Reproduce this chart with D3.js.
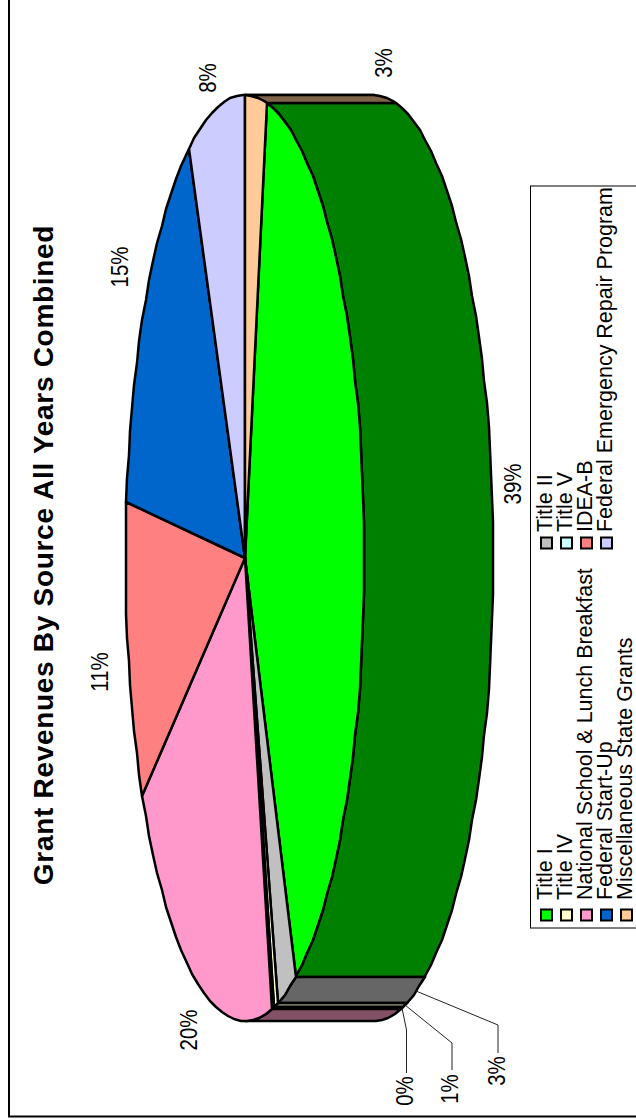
<!DOCTYPE html>
<html><head><meta charset="utf-8">
<script src="https://cdn.jsdelivr.net/npm/d3@7"></script>
<style>html,body{margin:0;padding:0;background:#fff;overflow:hidden}svg{display:block}text{font-family:"Liberation Sans",Arial,sans-serif;fill:#000}</style>
</head><body><svg id="c" width="636" height="1120"></svg>
<script>
const titleText = "Grant Revenues By Source All Years Combined";
const categories = ["Title I","Title II","Title IV","Title V","National School & Lunch Breakfast","IDEA-B","Federal Start-Up","Federal Emergency Repair Program","Miscellaneous State Grants"];
const shares = [40.05,2.6,0.55,0.3,20,10.5,15.3,7.8,2.9];
const shareLabels = ["39%","3%","1%","0%","20%","11%","15%","8%","3%"];
const faceColors = ["#00ff00","#c0c0c0","#ffffcc","#ccffff","#ff99cc","#ff8080","#0066cc","#ccccff","#ffcc99"];
const wallColors = ["#008000","#666666","#999980","#668080","#845066","#804040","#003366","#666680","#806448"];
const legendCol1 = ["Title I","Title IV","National School & Lunch Breakfast","Federal Start-Up","Miscellaneous State Grants"];
const legendCol2 = ["Title II","Title V","IDEA-B","Federal Emergency Repair Program"];

const svg = d3.select("#c");
const W = 1120;
const root = svg.append("g").attr("transform",`translate(0,${W}) rotate(-90)`);
root.append("rect").attr("x",3.5).attr("y",9).attr("width",W+20).attr("height",700).attr("fill","none").attr("stroke","#000").attr("stroke-width",2);

const cx=562, cy=245, rx=463, ry=119.5, depth=129;
const X=d3.scaleLinear().domain([-1,1]).range([cx-rx,cx+rx]);
const Y=d3.scaleLinear().domain([-1,1]).range([cy-ry,cy+ry]);
const rad=d=>d*Math.PI/180;
const startDeg=100.5;
const arcs=d3.pie().sort(null).startAngle(rad(startDeg)).endAngle(rad(startDeg+360))(shares);
const STEP=rad(3);
const line=d3.line();
function thetas(a,b){const t=d3.range(a,b,STEP);t.push(b);return t;}
function pt(t,dy=0){return [Math.round(X(Math.sin(t))),Math.round(Y(-Math.cos(t))+dy)];}

const wallLo=Math.PI/2, wallHi=3*Math.PI/2;
const walls=[];
arcs.forEach((a,i)=>{
  [[a.startAngle,a.endAngle],[a.startAngle-2*Math.PI,a.endAngle-2*Math.PI]].forEach(([s,e])=>{
    const lo=Math.max(s,wallLo),hi=Math.min(e,wallHi);
    if(hi>lo) walls.push({i,lo,hi});
  });
});
root.append("g").selectAll("path").data(walls).join("path")
 .attr("d",w=>{const t=thetas(w.lo,w.hi);return line(t.map(v=>pt(v)).concat(t.slice().reverse().map(v=>pt(v,depth))))+"Z";})
 .attr("fill",w=>wallColors[w.i]).attr("stroke","#000").attr("stroke-width",2.5).attr("stroke-linejoin","round");

root.append("g").selectAll("path").data(arcs).join("path")
 .attr("d",a=>line([[cx,cy]].concat(thetas(a.startAngle,a.endAngle).map(v=>pt(v))))+"Z")
 .attr("fill",(a,i)=>faceColors[i]).attr("stroke","#000").attr("stroke-width",2.5).attr("stroke-linejoin","round");

function placeText(sel,x,y,k){return sel.attr("transform",(d,i)=>`translate(${x(d,i)},${y(d,i)}) scale(${k},1)`);}

const labelLayout=[[521,W-484],[505,W-1071],[458,W-1089],[413,W-1091],[197,W-1030],[108,W-672],[128,W-267],[216,W-78],[392,W-63]];
placeText(root.append("g").selectAll("text").data(shareLabels).join("text"),(d,i)=>labelLayout[i][1],(d,i)=>labelLayout[i][0],0.87)
 .attr("text-anchor","middle").attr("font-size",23.5).text(d=>d);
const leaders={1:[[498,W-1025],[498,W-1053]],2:[[452,W-1043],[452,W-1070]],3:[[406.5,W-1030],[406.5,W-1073]]};
root.append("g").selectAll("path").data(Object.keys(leaders)).join("path")
 .attr("d",k=>{const a=arcs[k];const m=(a.startAngle+a.endAngle)/2;
   return line([pt(m,depth)].concat(leaders[k].map(p=>[p[1],p[0]])));})
 .attr("fill","none").attr("stroke","#222").attr("stroke-width",1);

root.append("text").attr("x",W-555).attr("y",53).attr("text-anchor","middle")
 .attr("font-size",28).attr("font-weight","bold").attr("letter-spacing",0.7).text(titleText);

root.append("rect").attr("x",W-928).attr("y",530.5).attr("width",742).attr("height",140).attr("fill","#fff").attr("stroke","#000").attr("stroke-width",1);
const rowY=d3.scaleLinear().domain([0,1]).range([552,572]);
[[legendCol1,205,220],[legendCol2,577,588]].forEach(([names,mx,tx])=>{
  const g=root.append("g");
  g.selectAll("rect").data(names).join("rect")
   .attr("x",mx-5.5).attr("y",(d,i)=>rowY(i)-11).attr("width",11).attr("height",11)
   .attr("fill",d=>faceColors[categories.indexOf(d)]).attr("stroke","#000").attr("stroke-width",2);
  placeText(g.selectAll("text").data(names).join("text"),()=>tx,(d,i)=>rowY(i),0.955)
   .attr("font-size",22.5).text(d=>d);
});
</script></body></html>
